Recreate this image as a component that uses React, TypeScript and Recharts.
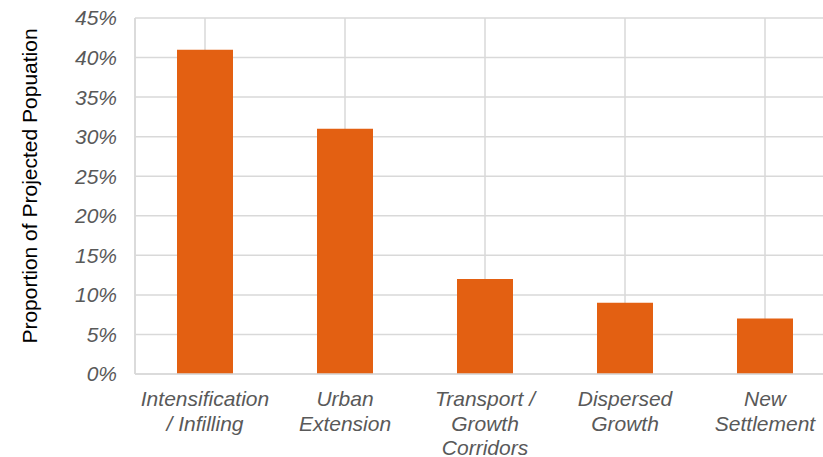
import { BarChart, Bar, XAxis, YAxis, CartesianGrid, Label } from 'recharts'

// ─── Data ────────────────────────────────────────────────────────────

const categories = ['Intensification / Infilling', 'Urban Extension', 'Transport / Growth Corridors', 'Dispersed Growth', 'New Settlement']
const categoryLines = [
    ['Intensification', '/ Infilling'],
    ['Urban', 'Extension'],
    ['Transport /', 'Growth', 'Corridors'],
    ['Dispersed', 'Growth'],
    ['New', 'Settlement'],
]
const shares = [41, 31, 12, 9, 7]
const yTicks = [0, 5, 10, 15, 20, 25, 30, 35, 40, 45]

const chartData = categories.map((name, i) => ({ name, share: shares[i] }))

const FONT = '"Liberation Sans", Arial, sans-serif'
const tickColor = '#595959'
const gridColor = '#d9d9d9'
const barColor = '#e36012'

// ─── Ticks ───────────────────────────────────────────────────────────

function CategoryTick({ x, y, index }: any) {
    const lines = categoryLines[index] ?? []
    return (
        <text x={x} y={y} textAnchor="middle" fill={tickColor} fontSize={21} fontStyle="italic" fontFamily={FONT}>
            {lines.map((line, i) => (
                <tspan key={i} x={x} dy={i === 0 ? 24 : 24.5}>{line}</tspan>
            ))}
        </text>
    )
}

function AxisTitle({ viewBox }: any) {
    const cy = viewBox ? viewBox.y + viewBox.height / 2 - 10 : 186
    return (
        <text x={37} y={cy} transform={`rotate(-90, 37, ${cy})`} textAnchor="middle" fill="#000" fontSize={21} fontFamily={FONT}>
            Proportion of Projected Popuation
        </text>
    )
}

// ─── Component ───────────────────────────────────────────────────────

export default function App() {
    return (
        <div style={{ position: 'fixed', left: 0, top: 0, width: 823, height: 457, overflow: 'hidden', background: '#fff' }}>
            <BarChart width={845} height={457} data={chartData} margin={{ top: 18, right: 10, left: 0, bottom: 0 }} barCategoryGap="30%">
                <CartesianGrid stroke={gridColor} strokeWidth={1.5} vertical={true} horizontal={true} />
                <XAxis
                    dataKey="name"
                    axisLine={{ stroke: gridColor, strokeWidth: 1.5 }}
                    tickLine={false}
                    tick={<CategoryTick />}
                    interval={0}
                    height={83}
                />
                <YAxis
                    width={135}
                    domain={[0, 45]}
                    ticks={yTicks}
                    interval={0}
                    axisLine={{ stroke: gridColor, strokeWidth: 1.5 }}
                    tickLine={false}
                    tickSize={0}
                    tickMargin={18}
                    tickFormatter={(v: number) => `${v}%`}
                    tick={{ fill: tickColor, fontSize: 21, fontStyle: 'italic', fontFamily: FONT }}
                >
                    <Label content={<AxisTitle />} />
                </YAxis>
                <Bar dataKey="share" fill={barColor} isAnimationActive={false} />
            </BarChart>
        </div>
    )
}
